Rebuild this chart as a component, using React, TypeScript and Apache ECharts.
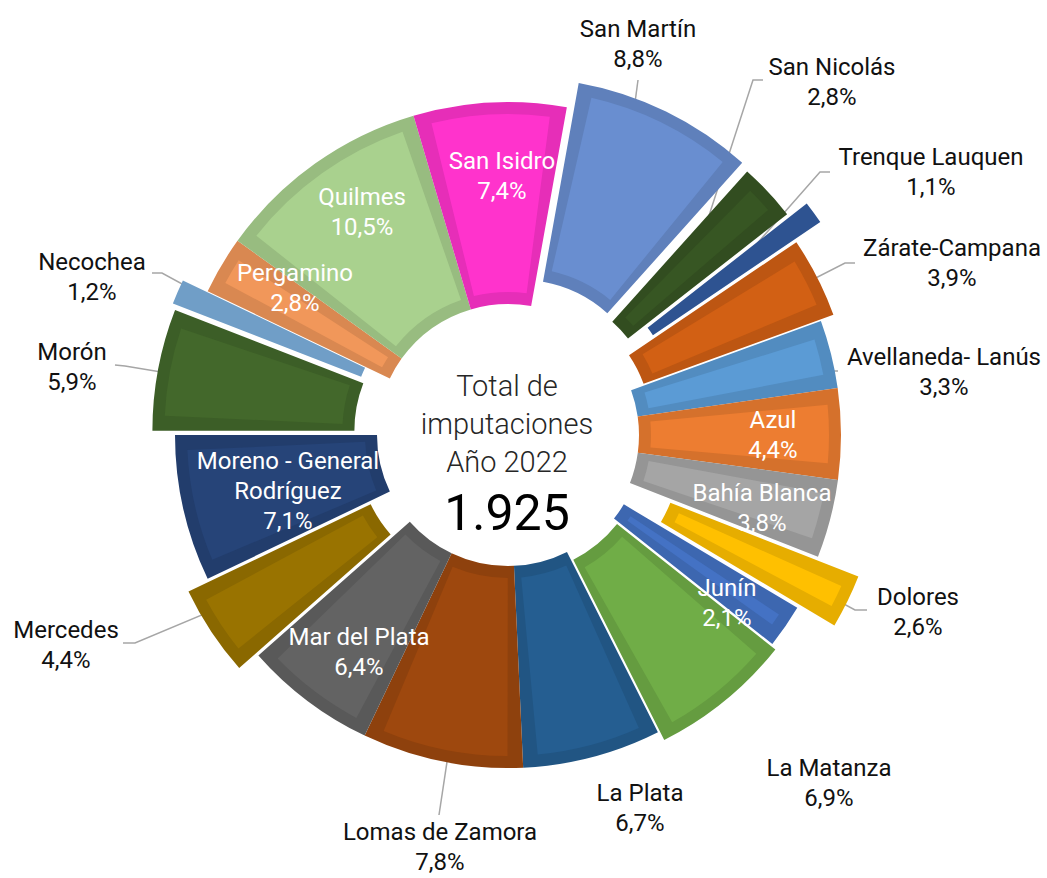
import React, { useEffect, useRef } from 'react';
import * as echarts from 'echarts';

// ---------- DATA ----------
const CATEGORIES = [
  'Avellaneda- Lanús', 'Azul', 'Bahía Blanca', 'Dolores', 'Junín', 'La Matanza', 'La Plata',
  'Lomas de Zamora', 'Mar del Plata', 'Mercedes', 'Moreno - General Rodríguez', 'Morón',
  'Necochea', 'Pergamino', 'Quilmes', 'San Isidro', 'San Martín', 'San Nicolás',
  'Trenque Lauquen', 'Zárate-Campana',
];
const PERCENTS = [3.3, 4.4, 3.8, 2.6, 2.1, 6.9, 6.7, 7.8, 6.4, 4.4, 7.1, 5.9, 1.2, 2.8, 10.5, 7.4, 8.8, 2.8, 1.1, 3.9];
const TOTAL_IMPUTACIONES = 1925;
const CENTER_TITLE = ['Total de', 'imputaciones', 'Año 2022'];

// ---------- STYLE ----------
const FILLS = [
  '#5b9bd5', '#ed7d31', '#a5a5a5', '#ffc000', '#4472c4', '#70ad47', '#255e91',
  '#9e480e', '#636363', '#997300', '#264478', '#43682b',
  '#7cafdd', '#f1975a', '#a9d18e', '#ff33cc', '#698ed0', '#375623',
  '#335ca1', '#d26014',
];
// explosion (px) of each slice, same order as CATEGORIES
const EXPLODE = [0, 0, 0, 45, 4, 10, 0, 0, 0, 23, 0, 23, 27, 0, 0, 0, 27, 23, 45, 14];

const CX = 508;
const CY = 435;
const R_IN = 131;
const R_OUT = 333;
const BAND = 12;
const PAD = 5.4;
const START_CW = 70; // degrees clockwise from 12 o'clock
const FONT = 'Roboto, "Noto Sans", Arial, sans-serif';

type LabelSpec = { at: [number, number]; inside?: boolean; line?: [number, number][] };
const LABEL_POS: Record<string, LabelSpec> = {
  'Avellaneda- Lanús': { at: [944, 372], line: [[830, 371], [838, 371]] },
  'Azul': { at: [773, 435], inside: true },
  'Bahía Blanca': { at: [762, 508], inside: true },
  'Dolores': { at: [918, 612], line: [[855, 610], [867, 610]] },
  'Junín': { at: [727, 603], inside: true },
  'La Matanza': { at: [829, 783] },
  'La Plata': { at: [640, 808] },
  'Lomas de Zamora': { at: [440, 847], line: [[439, 815], [439, 815]] },
  'Mar del Plata': { at: [359, 652], inside: true },
  'Mercedes': { at: [66, 645], line: [[135, 643], [123, 643]] },
  'Moreno - General Rodríguez': { at: [288, 491], inside: true },
  'Morón': { at: [72, 367], line: [[125, 366], [115, 365]] },
  'Necochea': { at: [92, 277], line: [[162, 273], [152, 273]] },
  'Pergamino': { at: [295, 288], inside: true },
  'Quilmes': { at: [362, 212], inside: true },
  'San Isidro': { at: [502, 176], inside: true },
  'San Martín': { at: [638, 44], line: [[638, 80], [638, 80]] },
  'San Nicolás': { at: [832, 82], line: [[753, 80], [763, 80]] },
  'Trenque Lauquen': { at: [931, 172], line: [[820, 172], [830, 172]] },
  'Zárate-Campana': { at: [952, 263], line: [[845, 263], [855, 263]] },
};

function darken(hex: string, f: number): string {
  const n = parseInt(hex.slice(1), 16);
  const r = Math.round(((n >> 16) & 255) * f);
  const g = Math.round(((n >> 8) & 255) * f);
  const b = Math.round((n & 255) * f);
  return '#' + [r, g, b].map((v) => v.toString(16).padStart(2, '0')).join('');
}

const SUM = PERCENTS.reduce((a, b) => a + b, 0);
function midDir(i: number): [number, number] {
  let cum = 0;
  for (let j = 0; j < i; j++) cum += PERCENTS[j];
  const a = ((START_CW + ((cum + PERCENTS[i] / 2) / SUM) * 360) * Math.PI) / 180;
  return [Math.sin(a), -Math.cos(a)];
}

function fmtPct(v: number): string {
  return v.toFixed(1).replace('.', ',') + '%';
}
function wrapName(name: string): string {
  if (name.length <= 18) return name;
  const k = name.lastIndexOf(' ', 17);
  return name.slice(0, k) + '\n' + name.slice(k + 1);
}
function fmtThousands(n: number): string {
  return String(n).replace(/\B(?=(\d{3})+(?!\d))/g, '.');
}

function buildOption(): any {
  const groups = Array.from(new Set(EXPLODE)).sort((a, b) => a - b);
  const layer = (radius: number[], pad: number, colorOf: (i: number) => string) =>
    groups.map((off) => ({
      type: 'pie',
      center: [CX, CY],
      radius,
      startAngle: 90 - START_CW,
      clockwise: true,
      padAngle: pad,
      minAngle: -pad,
      selectedMode: 'multiple',
      selectedOffset: off,
      silent: true,
      avoidLabelOverlap: false,
      label: { show: false },
      labelLine: { show: false },
      emphasis: { disabled: true },
      itemStyle: { borderWidth: 0 },
      select: { itemStyle: { borderWidth: 0 } },
      data: CATEGORIES.map((name, i) =>
        EXPLODE[i] === off
          ? { name, value: PERCENTS[i], selected: true, itemStyle: { color: colorOf(i) }, select: { itemStyle: { color: colorOf(i) } } }
          : { name, value: PERCENTS[i], itemStyle: { color: 'rgba(0,0,0,0)' }, select: { itemStyle: { color: 'rgba(0,0,0,0)' } } }
      ),
    }));

  const outer = layer([R_IN, R_OUT], 0, (i) => darken(FILLS[i], 0.9));
  const inner = layer([R_IN + BAND, R_OUT - BAND], PAD, (i) => FILLS[i]);

  const labels = {
    type: 'pie',
    center: [CX, CY],
    radius: [R_IN, R_OUT],
    startAngle: 90 - START_CW,
    clockwise: true,
    silent: true,
    avoidLabelOverlap: false,
    emphasis: { disabled: true },
    itemStyle: { color: 'rgba(0,0,0,0)', borderWidth: 0 },
    label: {
      show: true,
      formatter: (p: any) => wrapName(p.name) + '\n' + fmtPct(p.value),
      fontFamily: FONT,
      fontSize: 24,
      lineHeight: 30,
      color: '#111111',
    },
    labelLine: { show: true, smooth: false, length: 10, length2: 10, lineStyle: { color: '#a6a6a6', width: 1.5 } },
    labelLayout: (p: any) => {
      const i = p.dataIndex;
      const s = LABEL_POS[CATEGORIES[i]];
      const res: any = { x: s.at[0], y: s.at[1], align: 'center', verticalAlign: 'middle' };
      if (s.line) {
        const [dx, dy] = midDir(i);
        const r = EXPLODE[i] + (R_IN + R_OUT) / 2;
        res.labelLinePoints = [[CX + dx * r, CY + dy * r], s.line[0], s.line[1]];
      }
      return res;
    },
    data: CATEGORIES.map((name, i) => {
      const s = LABEL_POS[name];
      return {
        name,
        value: PERCENTS[i],
        label: s.inside ? { position: 'inside', color: '#ffffff' } : { position: 'outside', color: '#111111' },
        labelLine: { show: !!s.line },
      };
    }),
  };

  return {
    animation: false,
    backgroundColor: '#ffffff',
    series: [...outer, ...inner, labels],
    graphic: [
      {
        type: 'text',
        x: CX - 1,
        y: 424,
        style: {
          text: CENTER_TITLE.join('\n'),
          fontFamily: FONT,
          fontSize: 29,
          fontWeight: 300,
          lineHeight: 38,
          fill: '#262626',
          align: 'center',
          verticalAlign: 'middle',
        },
      },
      {
        type: 'text',
        x: CX - 1,
        y: 513,
        style: {
          text: fmtThousands(TOTAL_IMPUTACIONES),
          fontFamily: FONT,
          fontSize: 50,
          fontWeight: 400,
          fill: '#000000',
          align: 'center',
          verticalAlign: 'middle',
        },
      },
    ],
  };
}

export default function App() {
  const ref = useRef<HTMLDivElement>(null);
  useEffect(() => {
    if (!ref.current) return;
    const chart = echarts.init(ref.current, undefined, { renderer: 'svg' });
    chart.setOption(buildOption());
    return () => chart.dispose();
  }, []);
  return <div ref={ref} style={{ position: 'fixed', left: 0, top: 0, width: 1047, height: 878 }} />;
}
